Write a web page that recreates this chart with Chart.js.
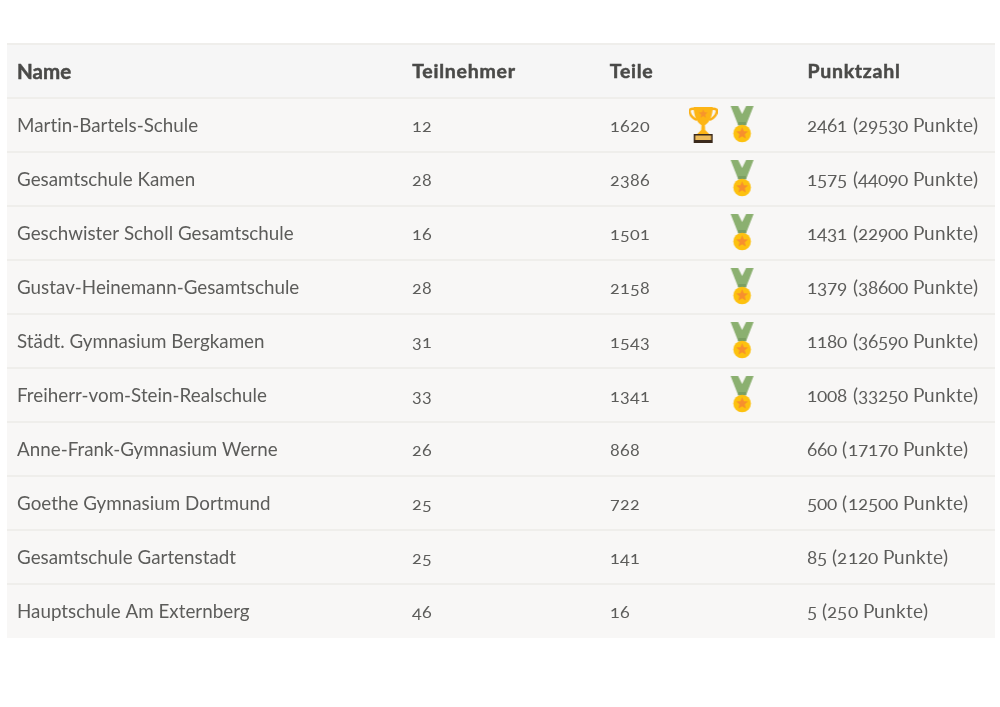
<!DOCTYPE html>
<html>
<head>
<meta charset="utf-8">
<title>Punktzahl</title>
<style>
  @font-face { font-family: 'LatoOld'; src: local('Lato Regular'), local('Lato'); font-feature-settings: "onum"; font-variant-numeric: oldstyle-nums; }
  html, body { margin: 0; padding: 0; background: #fff; }
  #wrap { width: 1000px; height: 707px; }
</style>
<script src="https://cdn.jsdelivr.net/npm/chart.js@4"></script>
</head>
<body>
<div id="wrap"><canvas id="chart" width="1000" height="707"></canvas></div>
<script>
const headers = ['Name', 'Teilnehmer', 'Teile', 'Punktzahl'];
const schools = [
  'Martin-Bartels-Schule', 'Gesamtschule Kamen', 'Geschwister Scholl Gesamtschule',
  'Gustav-Heinemann-Gesamtschule', 'Städt. Gymnasium Bergkamen', 'Freiherr-vom-Stein-Realschule',
  'Anne-Frank-Gymnasium Werne', 'Goethe Gymnasium Dortmund', 'Gesamtschule Gartenstadt',
  'Hauptschule Am Externberg'
];
const participants = [12, 28, 16, 28, 31, 33, 26, 25, 25, 46];
const parts = [1620, 2386, 1501, 2158, 1543, 1341, 868, 722, 141, 16];
const score = [2461, 1575, 1431, 1379, 1180, 1008, 660, 500, 85, 5];
const totalPoints = [29530, 44090, 22900, 38600, 36590, 33250, 17170, 12500, 2120, 250];
const trophyRows = ['Martin-Bartels-Schule'];
const medalRows = schools.slice(0, 6);

// the table is five equal columns, Name takes the first two
const COL_TEILNEHMER = 2, COL_TEILE = 3, COL_PUNKTE = 4;
const COL_TROPHY = 3.523, COL_MEDAL = 3.72;
const HEADER = 'header';
const FAMILY = 'LatoOld, Lato';
const HEAD_FONT = 'bold 19.5px Lato';
const NUM_FONT = '18px ' + FAMILY;
const SCORE_FONT = '18.7px ' + FAMILY;
const HEAD_COLOR = '#4a4a48';
const TEXT_COLOR = '#5c5c5a';

function star(ctx, cx, cy, r, color) {
  ctx.fillStyle = color;
  ctx.beginPath();
  for (let i = 0; i < 10; i++) {
    const rad = i % 2 ? r * 0.45 : r;
    const a = -Math.PI / 2 + i * Math.PI / 5;
    ctx.lineTo(cx + rad * Math.cos(a), cy + rad * Math.sin(a));
  }
  ctx.closePath();
  ctx.fill();
}

function poly(ctx, color, pts) {
  ctx.fillStyle = color;
  ctx.beginPath();
  pts.forEach(p => ctx.lineTo(p[0], p[1]));
  ctx.closePath();
  ctx.fill();
}

function trophyIcon() {
  const c = document.createElement('canvas');
  c.width = 29; c.height = 36;
  const ctx = c.getContext('2d');
  // handles
  ctx.strokeStyle = '#fbb117';
  ctx.lineWidth = 2.4;
  ctx.beginPath();
  ctx.moveTo(6, 2); ctx.bezierCurveTo(-2, 0, 0, 9, 8, 13);
  ctx.moveTo(23, 2); ctx.bezierCurveTo(31, 0, 29, 9, 21, 13);
  ctx.stroke();
  // bowl
  ctx.fillStyle = '#fdb515';
  ctx.beginPath();
  ctx.moveTo(5, 0); ctx.lineTo(24, 0);
  ctx.bezierCurveTo(24, 9, 21, 15, 16.5, 18);
  ctx.lineTo(12.5, 18);
  ctx.bezierCurveTo(8, 15, 5, 9, 5, 0);
  ctx.fill();
  star(ctx, 14.5, 7, 4.5, '#f7942d');
  // stem and foot
  poly(ctx, '#fdb515', [[12.8, 17], [16.2, 17], [16.5, 23], [20.5, 27], [8.5, 27], [12.5, 23]]);
  ctx.fillStyle = '#3b2a1c';
  ctx.fillRect(5, 27, 19, 9);
  ctx.fillStyle = '#eebc5a';
  ctx.fillRect(6.5, 28.5, 16, 4.5);
  return c;
}

function medalIcon() {
  const c = document.createElement('canvas');
  c.width = 25; c.height = 38;
  const ctx = c.getContext('2d');
  poly(ctx, '#8bb070', [[1, 0], [8.5, 0], [12.5, 8], [16.5, 0], [24, 0], [16.5, 19], [8.5, 19]]);
  poly(ctx, '#7a9f62', [[8.5, 16], [16.5, 16], [16.5, 19.5], [8.5, 19.5]]);
  ctx.fillStyle = '#fdc10f';
  ctx.beginPath(); ctx.arc(12.5, 27.5, 8.8, 0, Math.PI * 2); ctx.fill();
  star(ctx, 12.5, 27.5, 6.2, '#f78f2e');
  return c;
}

const tablePlugin = {
  id: 'tablePlugin',
  beforeDraw(chart) {
    const { ctx, chartArea: a, scales: { y } } = chart;
    ctx.letterSpacing = '0.02px'; // no "ti" ligatures
    ctx.save();
    ctx.fillStyle = '#f8f7f6';
    ctx.fillRect(a.left, a.top, a.width, a.height);
    ctx.fillStyle = '#f6f6f6';
    ctx.fillRect(a.left, a.top, a.width, y.getPixelForValue(0.5) - a.top);
    ctx.restore();
  },
  afterDatasetsDraw(chart) {
    const { ctx, scales: { x, y } } = chart;
    const cellX = col => x.getPixelForValue(col) + 10;
    ctx.save();
    ctx.textBaseline = 'middle';
    ctx.textAlign = 'left';
    ctx.font = HEAD_FONT;
    ctx.letterSpacing = '0.75px';
    ctx.fillStyle = HEAD_COLOR;
    ctx.strokeStyle = HEAD_COLOR;
    ctx.lineWidth = 0.5;
    [[1, COL_TEILNEHMER], [2, COL_TEILE], [3, COL_PUNKTE]].forEach(([h, col]) => {
      ctx.fillText(headers[h], cellX(col), y.getPixelForValue(0) + 1);
      ctx.strokeText(headers[h], cellX(col), y.getPixelForValue(0) + 1);
    });
    ctx.letterSpacing = '0.02px';
    ctx.fillStyle = TEXT_COLOR;
    schools.forEach((s, i) => {
      const py = y.getPixelForValue(i + 1) + 1;
      ctx.font = NUM_FONT;
      ctx.fillText(participants[i], cellX(COL_TEILNEHMER), py);
      ctx.fillText(parts[i], cellX(COL_TEILE), py);
      ctx.font = SCORE_FONT;
      ctx.fillText(score[i] + ' (' + totalPoints[i] + ' Punkte)', cellX(COL_PUNKTE), py);
    });
    ctx.restore();
  }
};

function draw() {
  new Chart(document.getElementById('chart'), {
    type: 'scatter',
    data: {
      labels: [HEADER, ...schools],
      datasets: [
        {
          label: 'Pokal',
          data: trophyRows.map(s => ({ x: COL_TROPHY, y: s })),
          pointStyle: trophyIcon()
        },
        {
          label: 'Medaille',
          data: medalRows.map(s => ({ x: COL_MEDAL, y: s })),
          pointStyle: medalIcon()
        }
      ]
    },
    options: {
      responsive: false,
      animation: false,
      layout: { padding: { left: 7, right: 5, top: 44, bottom: 69 } },
      plugins: { legend: { display: false }, tooltip: { enabled: false }, title: { display: false } },
      scales: {
        x: { type: 'linear', min: 0, max: 5, display: false },
        y: {
          type: 'category',
          offset: true,
          afterFit(scale) { scale.width = 0; },
          border: { display: false },
          grid: {
            offset: true,
            drawTicks: false,
            lineWidth: 2,
            // no rule under the last row
            color: ctx => ctx.tick ? '#efeeeb' : 'rgba(0,0,0,0)'
          },
          ticks: {
            mirror: true,
            padding: 10,
            labelOffset: 1,
            autoSkip: false,
            color: ctx => ctx.index === 0 ? HEAD_COLOR : TEXT_COLOR,
            textStrokeColor: HEAD_COLOR,
            textStrokeWidth: ctx => ctx.index === 0 ? 0.5 : 0,
            font: ctx => ctx.index === 0
              ? { family: 'Lato', size: 20.5, weight: 'bold' }
              : { family: 'Lato', size: 18.8 },
            callback(value, index) {
              return index === 0 ? headers[0] : schools[index - 1];
            }
          }
        }
      }
    },
    plugins: [tablePlugin]
  });
}

document.fonts.load('17px LatoOld').then(draw, draw);
</script>
</body>
</html>
